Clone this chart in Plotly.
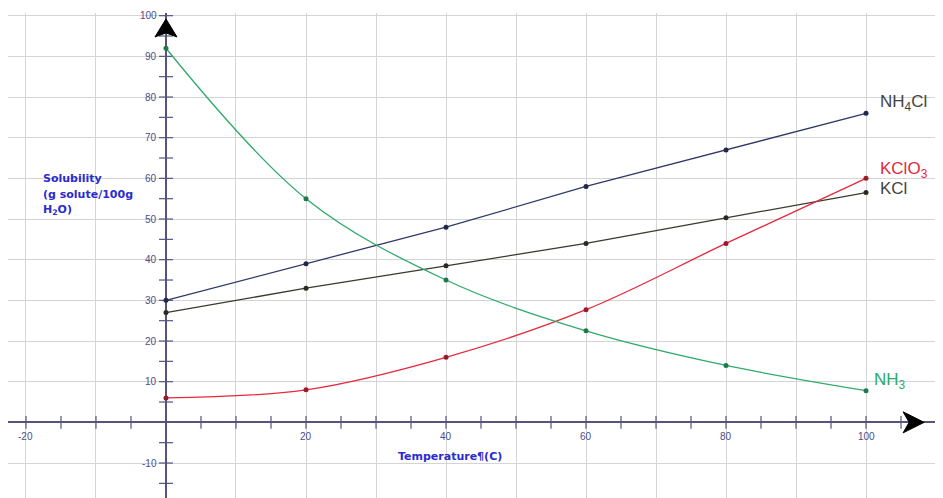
import plotly.graph_objects as go

# ---------------- data ----------------
temps = [0, 20, 40, 60, 80, 100]
nh4cl = [30, 39, 48, 58, 67, 76]
kcl = [27, 33, 38.5, 44, 50.3, 56.5]
kclo3 = [6, 8, 16, 27.7, 44, 60]
nh3 = [92, 55, 35, 22.5, 14, 7.8]

series_names = ["NH<sub>4</sub>Cl", "KClO<sub>3</sub>", "KCl", "NH<sub>3</sub>"]

x_tick_vals = [-20, 20, 40, 60, 80, 100]
x_tick_labels = ["-20", "20", "40", "60", "80", "100"]
y_tick_vals = [-10, 10, 20, 30, 40, 50, 60, 70, 80, 90, 100]
y_tick_labels = ["-10", "10", "20", "30", "40", "50", "60", "70", "80", "90", "100"]
x_minor = [v for v in range(-20, 110, 5) if v != 0]
y_minor = [v for v in range(-15, 105, 5) if v != 0]

y_title_lines = ["<b>Solubility</b>", "<b>(g solute/100g</b>", "<b>H<sub>2</sub>O)</b>"]
x_title = "<b>Temperature¶(C)</b>"

# ---------------- styles ----------------
AXIS_COL = "#54547e"
TICK_FONT = dict(family="Liberation Sans, Arial", size=10, color="#4d4d88")
TITLE_FONT = dict(family="DejaVu Sans", size=11, color="#2b2bd0")
C_NH4CL = "#2f3a68"
C_KCL = "#3a3a2c"
C_KCLO3 = "#e8283c"
C_NH3 = "#2eaa6a"

fig = go.Figure()

# axis tick marks
fig.add_trace(go.Scatter(x=x_minor, y=[0] * len(x_minor), mode="markers", hoverinfo="skip",
                         marker=dict(symbol="line-ns", size=9, line=dict(width=1.2, color=AXIS_COL)),
                         showlegend=False, cliponaxis=False))
fig.add_trace(go.Scatter(x=[0] * len(y_minor), y=y_minor, mode="markers", hoverinfo="skip",
                         marker=dict(symbol="line-ew", size=10, line=dict(width=1.2, color=AXIS_COL)),
                         showlegend=False, cliponaxis=False))


def add_series(y, color, dot, shape):
    fig.add_trace(go.Scatter(x=temps, y=y, mode="lines", showlegend=False,
                             line=dict(color=color, width=1.3, shape=shape, smoothing=1.0)))
    fig.add_trace(go.Scatter(x=temps, y=y, mode="markers", showlegend=False,
                             marker=dict(color=dot, size=5)))


add_series(nh4cl, C_NH4CL, "#22284a", "linear")
add_series(kcl, C_KCL, "#2a2a20", "linear")
add_series(kclo3, C_KCLO3, "#9a1a28", "spline")
add_series(nh3, C_NH3, "#1f7a48", "spline")

# arrowheads at the axis ends (pixel-sized paths anchored at the axis ends)
shapes = [
    dict(type="path", xref="x", yref="y", xsizemode="pixel", ysizemode="pixel", xanchor=0, yanchor=99.2,
         path="M0,0 L-11,-18 L0,-14 L11,-18 Z", fillcolor="black", line=dict(color="black", width=1)),
    dict(type="path", xref="x", yref="y", xsizemode="pixel", ysizemode="pixel", xanchor=108.3, yanchor=0,
         path="M0,0 L-21,10.5 L-15,0 L-21,-10.5 Z", fillcolor="black", line=dict(color="black", width=1)),
]

annotations = []
for v, t in zip(x_tick_vals, x_tick_labels):
    annotations.append(dict(x=v, y=0, text=t, showarrow=False, yshift=-14, font=TICK_FONT))
for v, t in zip(y_tick_vals, y_tick_labels):
    annotations.append(dict(x=0, y=v, text=t, showarrow=False, xanchor="right", xshift=-7, font=TICK_FONT))

# series labels
label_font = "Liberation Sans, Arial"
annotations += [
    dict(x=temps[-1], y=nh4cl[-1], text=series_names[0], showarrow=False, xanchor="left", xshift=12, yshift=10,
         font=dict(family=label_font, size=17, color="#444444")),
    dict(x=temps[-1], y=kclo3[-1], text=series_names[1], showarrow=False, xanchor="left", xshift=12, yshift=8,
         font=dict(family=label_font, size=17, color=C_KCLO3)),
    dict(x=temps[-1], y=kcl[-1], text=series_names[2], showarrow=False, xanchor="left", xshift=12, yshift=4,
         font=dict(family=label_font, size=17, color="#444444")),
    dict(x=temps[-1], y=nh3[-1], text=series_names[3], showarrow=False, xanchor="left", xshift=6, yshift=10,
         font=dict(family=label_font, size=17, color=C_NH3)),
]

# axis titles
for i, line in enumerate(y_title_lines):
    annotations.append(dict(x=-17.8, y=60, text=line, showarrow=False, xanchor="left", yanchor="middle",
                            yshift=-16 * i, font=TITLE_FONT))
annotations.append(dict(x=40.6, y=0, text=x_title, showarrow=False, yshift=-34, font=TITLE_FONT))

# page body has an 8px margin; plot area set so it spans the window like the reference
fig.update_layout(
    width=935, height=490,
    margin=dict(l=0, r=3, t=5, b=0),
    paper_bgcolor="white", plot_bgcolor="white",
    showlegend=False,
    annotations=annotations,
    shapes=shapes,
    xaxis=dict(range=[-22.57, 110.57], dtick=10, tick0=0, showgrid=True, gridcolor="#d4d4d4", gridwidth=1,
               zeroline=True, zerolinecolor=AXIS_COL, zerolinewidth=1.6,
               showticklabels=False, ticks="", showline=False, fixedrange=True),
    yaxis=dict(range=[-18.6, 100.66], dtick=10, tick0=0, showgrid=True, gridcolor="#d4d4d4", gridwidth=1,
               zeroline=True, zerolinecolor=AXIS_COL, zerolinewidth=1.6,
               showticklabels=False, ticks="", showline=False, fixedrange=True),
)

fig.write_html("out.html")
